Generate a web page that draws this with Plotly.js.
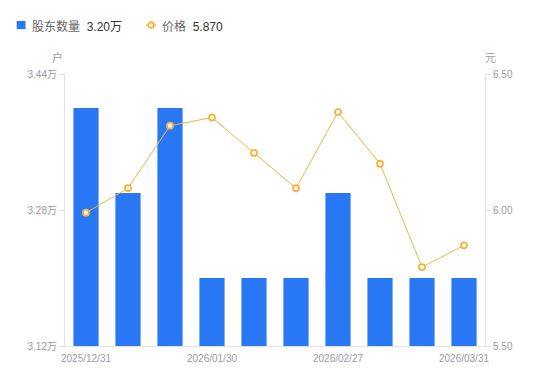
<!DOCTYPE html>
<html><head><meta charset="utf-8">
<script src="https://cdn.plot.ly/plotly-3.0.1.min.js"></script>
<style>html,body{margin:0;padding:0;background:#fff}#c{width:550px;height:381px}</style>
</head><body><div id="c"></div>
<script>
const dates = ['2025/12/31','2026/01/09','2026/01/20','2026/01/30','2026/02/06','2026/02/13','2026/02/27','2026/03/10','2026/03/20','2026/03/31'];
const holders = [3.40, 3.30, 3.40, 3.20, 3.20, 3.20, 3.30, 3.20, 3.20, 3.20];
const prices = [5.99, 6.08, 6.31, 6.34, 6.21, 6.08, 6.36, 6.17, 5.79, 5.87];
const leftTicks = [3.12, 3.28, 3.44];
const rightTicks = [5.50, 6.00, 6.50];
const xTickIdx = [0, 3, 6, 9];

const font = 'Liberation Sans, Noto Sans CJK SC, sans-serif';
const gray = '#9a9aa6';
const blue = '#2878f5';
const orange = '#f8b33f';

const traces = [
  {type:'bar', x:dates, y:holders, name:'股东数量', marker:{color:blue}, width:0.6, yaxis:'y', hoverinfo:'none'},
  {type:'scatter', mode:'lines+markers', x:dates, y:prices, name:'价格', yaxis:'y2',
   line:{color:orange, width:1}, marker:{symbol:'circle', size:6, color:'#fff', line:{color:orange, width:1.8}}, hoverinfo:'none'}
];
const layout = {
  width:550, height:381,
  margin:{l:65, r:65, t:74, b:35},
  paper_bgcolor:'#fff', plot_bgcolor:'#fff',
  showlegend:false,
  font:{family:font, size:10, color:gray},
  xaxis:{type:'category', range:[-0.5, dates.length-0.5], automargin:false, tickvals:xTickIdx.map(i=>dates[i]), ticktext:xTickIdx.map(i=>dates[i]),
    showline:true, linecolor:'#e3e3e3', linewidth:1, showgrid:false, ticks:'outside', ticklen:3, tickcolor:'rgba(0,0,0,0)', tickfont:{size:10,color:gray}, zeroline:false},
  yaxis:{range:[3.12,3.44], automargin:false, tickvals:leftTicks, ticktext:leftTicks.map(v=>v.toFixed(2)+'万'),
    showline:true, linecolor:'#e3e3e3', showgrid:false, ticks:'outside', ticklen:5, tickcolor:'#e3e3e3', zeroline:false,
    tickfont:{size:10,color:gray}},
  yaxis2:{range:[5.5,6.5], automargin:false, tickvals:rightTicks, ticktext:rightTicks.map(v=>v.toFixed(2)), overlaying:'y', side:'right',
    showline:true, linecolor:'#e3e3e3', showgrid:false, ticks:'outside', ticklen:5, tickcolor:'#e3e3e3', zeroline:false,
    tickfont:{size:10,color:gray}},
  shapes:[
    {type:'rect', xref:'paper', yref:'paper', x0:-0.115, x1:-0.094, y0:1.165, y1:1.195, fillcolor:blue, line:{width:0}},
    {type:'line', xref:'paper', yref:'paper', x0:0.193, x1:0.217, y0:1.18, y1:1.18, line:{color:orange, width:1.5}},
    {type:'circle', xref:'paper', yref:'paper', xsizemode:'pixel', ysizemode:'pixel', xanchor:0.205, yanchor:1.18, x0:-2.8, x1:2.8, y0:-2.8, y1:2.8, fillcolor:'#fff', line:{color:orange, width:1.8}}
  ],
  annotations:[
    {xref:'paper', yref:'paper', x:-0.084, y:1.175, xanchor:'left', yanchor:'middle', showarrow:false,
     text:'股东数量  <span style="color:#333">3.20万</span>', font:{size:12, color:'#666'}},
    {xref:'paper', yref:'paper', x:0.227, y:1.175, xanchor:'left', yanchor:'middle', showarrow:false,
     text:'价格  <span style="color:#333">5.870</span>', font:{size:12, color:'#666'}},
    {xref:'paper', yref:'paper', x:-0.017, y:1.06, xanchor:'center', yanchor:'middle', showarrow:false, text:'户', font:{size:11,color:gray}},
    {xref:'paper', yref:'paper', x:1.012, y:1.06, xanchor:'center', yanchor:'middle', showarrow:false, text:'元', font:{size:11,color:gray}}
  ]
};
Plotly.newPlot('c', traces, layout, {displayModeBar:false, staticPlot:true});
</script></body></html>
